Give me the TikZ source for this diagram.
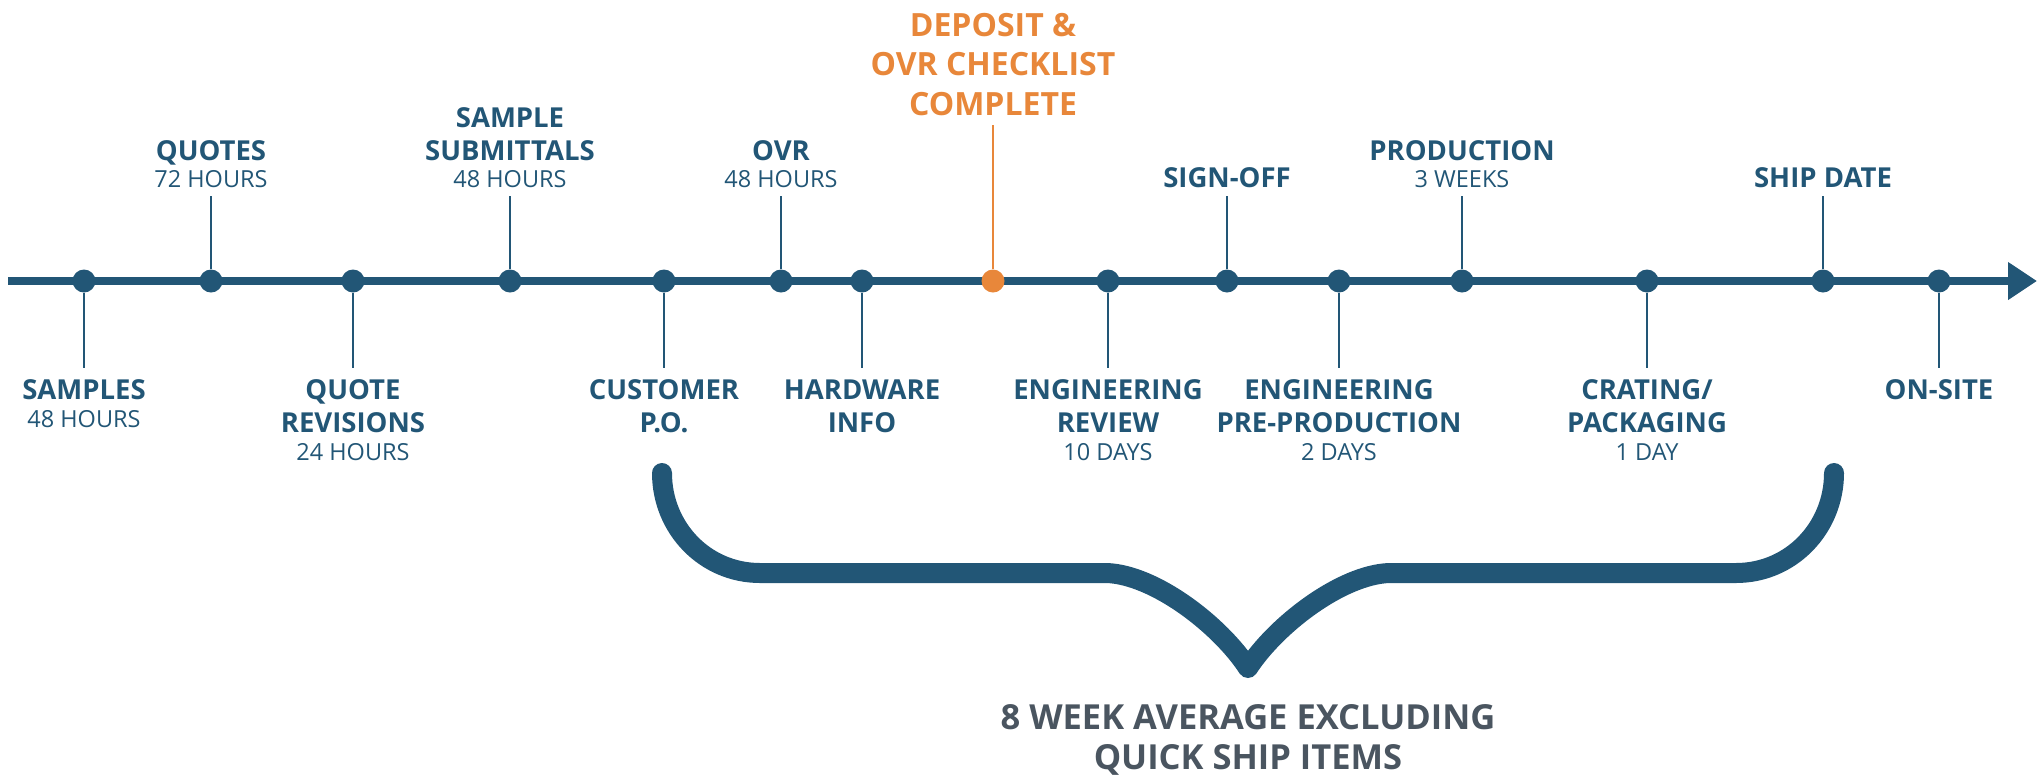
\documentclass[tikz,border=0pt]{standalone}
\usepackage{fontspec}
\setmainfont{Open Sans}
\usetikzlibrary{arrows.meta}
\definecolor{navy}{HTML}{225676}
\definecolor{ochre}{HTML}{E8873A}
\definecolor{slate}{HTML}{4A5560}
\newcommand{\hrs}[1]{\\[-5.5pt]{\fontsize{23.5}{29}\selectfont\mdseries #1}}
\begin{document}
\begin{tikzpicture}[x=1pt,y=-1pt,
    milestone/.style={circle,fill=navy,inner sep=0pt,minimum size=23pt},
    hotstone/.style={milestone,fill=ochre},
    toplbl/.style={anchor=south,inner sep=0pt,outer sep=8pt,align=center,text=navy,
      font=\bfseries\fontsize{27.5}{33}\selectfont},
    botlbl/.style={toplbl,anchor=north,outer sep=12pt},
    stem/.style={draw=navy,line width=1.5pt},
    spine/.style={draw=navy,line width=8pt,-{Triangle[length=29pt,width=36pt]}},
    curly/.style={draw=navy,line width=20pt,line cap=round,line join=round}]
  \useasboundingbox (0,0) rectangle (2037,780);
  \coordinate (tlstart) at (8,281);
  \coordinate (tlend) at (2037,281);
  \draw[spine] (tlstart) -- (tlend);
  \draw
    (84,281) node[milestone] (samples){}
    (211,281) node[milestone] (quotes){}
    (353,281) node[milestone] (revisions){}
    (510,281) node[milestone] (submittals){}
    (664,281) node[milestone] (customer){}
    (781,281) node[milestone] (ovr){}
    (862,281) node[milestone] (hardware){}
    (993,281) node[hotstone] (deposit){}
    (1108,281) node[milestone] (review){}
    (1227,281) node[milestone] (signoff){}
    (1339,281) node[milestone] (preprod){}
    (1462,281) node[milestone] (production){}
    (1647,281) node[milestone] (crating){}
    (1823,281) node[milestone] (ship){}
    (1939,281) node[milestone] (onsite){};
  % labels above and below the line
  \node[botlbl] (samplesL) at (84,368) {SAMPLES\hrs{48 HOURS}};
  \node[toplbl] (quotesL) at (211,196) {QUOTES\hrs{72 HOURS}};
  \node[botlbl] (revisionsL) at (353,368) {QUOTE\\REVISIONS\hrs{24 HOURS}};
  \node[toplbl] (submittalsL) at (510,196) {SAMPLE\\SUBMITTALS\hrs{48 HOURS}};
  \node[botlbl] (customerL) at (664,368) {CUSTOMER\\P.O.};
  \node[toplbl] (ovrL) at (781,196) {OVR\hrs{48 HOURS}};
  \node[botlbl] (hardwareL) at (862,368) {HARDWARE\\INFO};
  \node[toplbl,outer sep=9.5pt,text=ochre,font=\bfseries\fontsize{32}{39.5}\selectfont]
    (depositL) at (993,125) {DEPOSIT \&\\OVR CHECKLIST\\COMPLETE};
  \node[botlbl] (reviewL) at (1108,368) {ENGINEERING\\REVIEW\hrs{10 DAYS}};
  \node[toplbl] (signoffL) at (1227,196) {SIGN-OFF};
  \node[botlbl] (preprodL) at (1339,368) {ENGINEERING\\PRE-PRODUCTION\hrs{2 DAYS}};
  \node[toplbl] (productionL) at (1462,196) {PRODUCTION\hrs{3 WEEKS}};
  \node[botlbl] (cratingL) at (1647,368) {CRATING/\\PACKAGING\hrs{1 DAY}};
  \node[toplbl] (shipL) at (1823,196) {SHIP DATE};
  \node[botlbl] (onsiteL) at (1939,368) {ON-SITE};
  \begin{scope}[stem]
    \draw (samples) to (samplesL.north);
    \draw (quotes) to (quotesL.south);
    \draw (revisions) to (revisionsL.north);
    \draw (submittals) to (submittalsL.south);
    \draw (customer) to (customerL.north);
    \draw (ovr) to (ovrL.south);
    \draw (hardware) to (hardwareL.north);
    \draw[ochre] (deposit) to (depositL.south);
    \draw (review) to (reviewL.north);
    \draw (signoff) to (signoffL.south);
    \draw (preprod) to (preprodL.north);
    \draw (production) to (productionL.south);
    \draw (crating) to (cratingL.north);
    \draw (ship) to (shipL.south);
    \draw (onsite) to (onsiteL.north);
  \end{scope}
  % brace under the line
  \draw[curly] (662,473) .. controls (662,528) and (705,573) .. (760,573) -- (1107,573)
    .. controls (1155,575) and (1220,625) .. (1248,668)
    .. controls (1276,625) and (1341,575) .. (1389,573) -- (1736,573)
    .. controls (1791,573) and (1834,528) .. (1834,473);
  \node[font=\bfseries\fontsize{34.5}{40}\selectfont,text=slate,align=center]
    (summary) at (1248,740) {8 WEEK AVERAGE EXCLUDING\\QUICK SHIP ITEMS};
\end{tikzpicture}
\end{document}
